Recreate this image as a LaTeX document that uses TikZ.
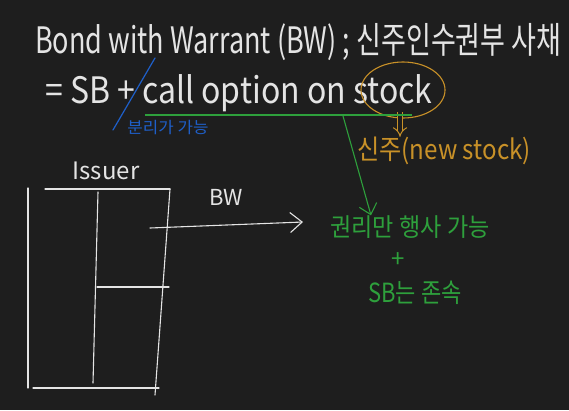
\documentclass[tikz,border=0pt]{standalone}
\usepackage{fontspec}
\setmainfont{Noto Sans CJK KR}
\usetikzlibrary{arrows.meta,shapes.geometric}
\definecolor{bg}{RGB}{30,30,30}
\definecolor{chalk}{RGB}{228,228,228}
\definecolor{gr}{RGB}{46,160,60}
\definecolor{og}{RGB}{200,145,40}
\definecolor{bl}{RGB}{30,95,200}
\tikzset{
  txt/.style={inner sep=0pt, text=chalk},
  pen/.style={draw=chalk, line width=1.1pt, line cap=round},
}
\newcommand{\fs}[1]{\fontsize{#1}{#1}\selectfont}
\begin{document}
\begin{tikzpicture}[x=1pt,y=-1pt]
\fill[bg] (0,0) rectangle (569,410);
\useasboundingbox (0,0) rectangle (569,410);
% title
\node[txt, anchor=west, xscale=1.04, yscale=1.4] (title) at (35,42) {\fs{26}Bond with Warrant (BW) ; 신주인수권부 사채};
\node[txt, anchor=west, xscale=1.23, yscale=1.4] (eq) at (45,93) {\fs{26}= SB + call option on stock};
% blue slash and text
\coordinate (bs1) at (155,58);
\coordinate (bs2) at (113,130);
\draw[draw=bl, line width=1.2pt, line cap=round] (bs1) -- (bs2);
\node[inner sep=0pt, text=bl, xscale=1.05] (sep) at (168,128) {\fs{16}분리가 가능};
% orange circle
\node[draw=og, line width=1.1pt, ellipse, minimum width=84pt, minimum height=56pt] (stockc) at (403,90) {};
\node[inner sep=0pt, text=og, xscale=1.15, yscale=1.3] (new) at (444,151) {\fs{21}신주(new stock)};
\draw[draw=og, line width=1pt, double=bg, double distance=4pt, -{Implies}] (400,112) -- (new.north -| 400,0);
% green
\coordinate (g1) at (145,115);
\coordinate (g2) at (412,115);
\draw[draw=gr, line width=1.1pt] (g1) -- (g2);
\coordinate (ga) at (343,116);
\node[inner sep=0pt, text=gr, xscale=1.1, yscale=1.2] (right) at (410,227) {\fs{21}권리만 행사 가능};
\node[inner sep=0pt, text=gr] (plus) at (398,260) {\fs{24}+};
\node[inner sep=0pt, text=gr, yscale=1.2] (sb) at (415,293) {\fs{22}SB는 존속};
\draw[draw=gr, line width=1.1pt, line cap=round, -{Straight Barb[length=10pt, width=18pt, line width=1.1pt]}] (ga) -- (right.north -| 371,0);
% issuer box
\node[txt] (issuer) at (106,171) {\fs{24}Issuer};
\draw[pen] (28,188) -- (28,388);
\draw[pen] (45,189) -- (170,189);
\draw[pen] (170,189) -- (155,395);
\draw[pen] (33,388) -- (159,388);
\draw[pen] (98,192) -- (93,383);
\draw[pen] (97,287) -- (169,287);
\coordinate (bwa) at (150,228);
\coordinate (bwb) at (303,222);
\node[txt] (bwl) at (226,197) {\fs{22}BW};
\draw[pen, -{Straight Barb[length=12pt, width=20pt, line width=1.1pt]}] (bwa) -- (bwb);
\end{tikzpicture}
\end{document}
